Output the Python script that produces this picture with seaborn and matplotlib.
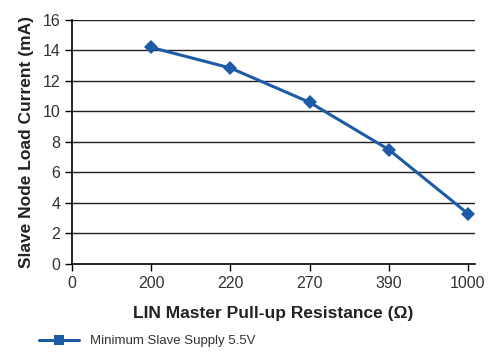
import matplotlib
matplotlib.use("Agg")
import matplotlib.pyplot as plt
import seaborn as sns
import pandas as pd

# values
resistance = ["0", "200", "220", "270", "390", "1000"]
point_pos = [1, 2, 3, 4, 5]
current = [14.2, 12.85, 10.6, 7.5, 3.3]
series_name = "Minimum Slave Supply 5.5V"

sns.set_style("white")
plt.rcParams["font.family"] = ["Liberation Sans", "DejaVu Sans"]

df = pd.DataFrame({"pos": point_pos, "current": current, "series": series_name})

fig = plt.figure(figsize=(5, 3.63), dpi=100)
ax = fig.add_axes([0.144, 0.273, 0.806, 0.672])

line_col = "#1d5ba6"
for y in range(2, 17, 2):
    ax.axhline(y, color="#222222", lw=1.0, zorder=1)

sns.lineplot(data=df, x="pos", y="current", color=line_col, lw=2.2,
             marker="D", markersize=7, markeredgewidth=0, ax=ax, zorder=3,
             legend=False)

ax.set_xlim(0, 5.09)
ax.set_ylim(0, 16)
ax.set_xticks(range(len(resistance)))
ax.set_xticklabels(resistance)
ax.set_yticks(range(0, 17, 2))
ax.tick_params(axis="both", direction="out", length=5, width=1, color="black",
               labelsize=11.5, bottom=True, left=True)
ax.tick_params(axis="both", labelcolor="#333333")
for s in ["top", "right"]:
    ax.spines[s].set_visible(False)
for s in ["left", "bottom"]:
    ax.spines[s].set_color("black")
    ax.spines[s].set_linewidth(1.2)

ax.set_xlabel("LIN Master Pull-up Resistance (\u03a9)", fontsize=12.5,
              fontweight="bold", color="#222222", labelpad=11)
ax.set_ylabel("Slave Node Load Current (mA)", fontsize=12.5,
              fontweight="bold", color="#222222", labelpad=6)

handle = plt.Line2D([], [], color=line_col, lw=2.2, marker="s",
                    markersize=7, markeredgewidth=0)
fig.legend([handle], [series_name], loc="center left",
           bbox_to_anchor=(0.055, 0.06), frameon=False, fontsize=9.5,
           handlelength=3.0, labelcolor="#333333")

fig.savefig("out.png", dpi=100)
